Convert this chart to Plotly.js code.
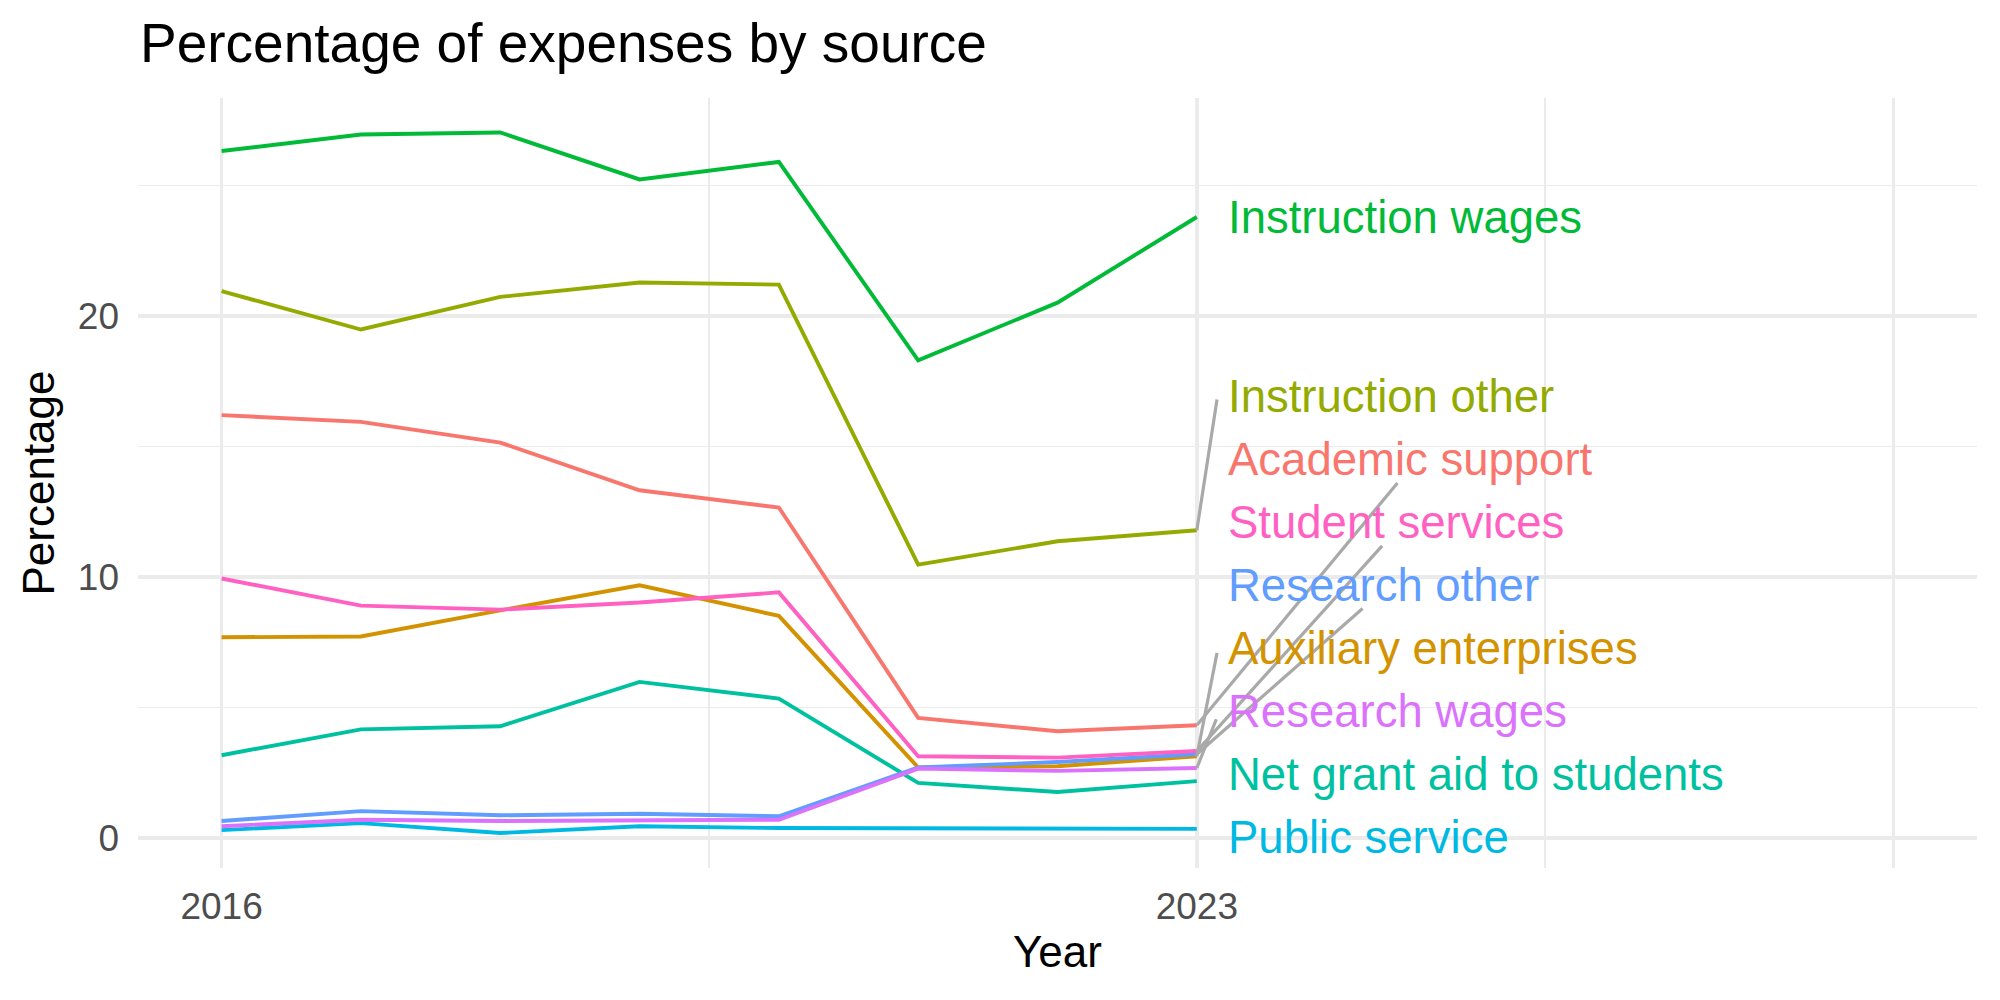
<!DOCTYPE html>
<html>
<head>
<meta charset="utf-8">
<script src="https://cdn.plot.ly/plotly-3.0.1.min.js"></script>
<style>
  html, body { margin: 0; padding: 0; background: #ffffff; }
  #chart { width: 2000px; height: 1000px; }
</style>
</head>
<body>
<div id="chart"></div>
<script>
// Share of total expenses (%) by source, 2016-2023
const years = [2016, 2017, 2018, 2019, 2020, 2021, 2022, 2023];

const academicSupport      = [16.20, 15.94, 15.15, 13.32, 12.66, 4.60, 4.09, 4.32];
const auxiliaryEnterprises = [7.69, 7.72, 8.72, 9.68, 8.51, 2.70, 2.75, 3.13];
const instructionOther     = [20.95, 19.48, 20.73, 21.28, 21.20, 10.47, 11.37, 11.79];
const instructionWages     = [26.32, 26.95, 27.03, 25.23, 25.90, 18.30, 20.51, 23.79];
const netGrantAid          = [3.17, 4.16, 4.28, 5.98, 5.34, 2.11, 1.76, 2.18];
const publicService        = [0.30, 0.57, 0.19, 0.45, 0.38, 0.38, 0.38, 0.35];
const researchOther        = [0.65, 1.03, 0.87, 0.93, 0.83, 2.70, 2.91, 3.21];
const researchWages        = [0.45, 0.70, 0.65, 0.68, 0.70, 2.66, 2.57, 2.68];
const studentServices      = [9.94, 8.90, 8.75, 9.02, 9.41, 3.13, 3.08, 3.33];

// Series names (drawn in this order, last on top)
const sourceNames = [
  "Academic support", "Auxiliary enterprises", "Instruction other",
  "Instruction wages", "Net grant aid to students", "Public service",
  "Research other", "Research wages", "Student services"
];
const sourceValues = [
  academicSupport, auxiliaryEnterprises, instructionOther,
  instructionWages, netGrantAid, publicService,
  researchOther, researchWages, studentServices
];
const sourceColors = [
  "#F8766D", "#D39200", "#93AA00", "#00BA38", "#00C19F",
  "#00B9E3", "#619CFF", "#DB72FB", "#FF61C3"
];

// End-of-line label placement (repelled so they do not overlap)
const labelX = 2023.21;
const labelY = [14.49, 7.25, 16.90, 23.79, 2.43, 0.02, 9.69, 4.86, 12.08];
// Leader segment end points (null = label sits beside its line, no segment)
const leaderEndX = [2024.44, 2023.145, 2023.145, null, null, null, 2024.19, 2023.14, 2024.33];
const leaderEndY = [13.60, 7.09, 16.80, null, null, null, 8.79, 4.55, 11.19];

const FONT = "Liberation Sans, Arial, Helvetica, sans-serif";

const traces = [];
sourceNames.forEach((name, i) => {
  traces.push({
    type: "scatter",
    mode: "lines",
    name: name,
    x: years,
    y: sourceValues[i],
    line: { color: sourceColors[i], width: 3.9 },
    hoverinfo: "skip",
    showlegend: false
  });
});

// Grey leader segments from the last point to the label
const lastYear = years[years.length - 1];
sourceNames.forEach((name, i) => {
  if (leaderEndX[i] === null) return;
  const vals = sourceValues[i];
  traces.push({
    type: "scatter",
    mode: "lines",
    x: [lastYear, leaderEndX[i]],
    y: [vals[vals.length - 1], leaderEndY[i]],
    line: { color: "#A9A9A9", width: 3.2 },
    hoverinfo: "skip",
    showlegend: false
  });
});

const annotations = sourceNames.map((name, i) => ({
  x: labelX,
  y: labelY[i],
  xref: "x",
  yref: "y",
  text: name,
  showarrow: false,
  xanchor: "left",
  yanchor: "middle",
  font: { family: FONT, size: 45.5, color: sourceColors[i] }
}));

const layout = {
  width: 2000,
  height: 1000,
  paper_bgcolor: "#ffffff",
  plot_bgcolor: "#ffffff",
  margin: { l: 138, r: 23, t: 98, b: 132, pad: 0 },
  showlegend: false,
  title: {
    text: "Percentage of expenses by source",
    font: { family: FONT, size: 55, color: "#000000" },
    xref: "container",
    x: 0.07,
    xanchor: "left",
    yref: "container",
    y: 0.957,
    yanchor: "middle"
  },
  xaxis: {
    range: [2015.4, 2028.6],
    tickmode: "array",
    tickvals: [2016, 2023, 2028],
    ticktext: ["2016", "2023", ""],
    ticks: "",
    showline: false,
    zeroline: false,
    showgrid: true,
    gridcolor: "#EBEBEB",
    gridwidth: 3.4,
    minor: {
      tickmode: "array",
      tickvals: [2019.5, 2025.5],
      showgrid: true,
      gridcolor: "#EBEBEB",
      gridwidth: 1.8,
      ticks: ""
    },
    tickfont: { family: FONT, size: 37, color: "#4D4D4D" },
    ticklabelstandoff: 13,
    title: {
      text: "Year",
      font: { family: FONT, size: 44, color: "#000000" },
      standoff: 10
    },
    automargin: false
  },
  yaxis: {
    range: [-1.15, 28.35],
    tickmode: "array",
    tickvals: [0, 10, 20],
    ticktext: ["0", "10", "20"],
    ticks: "",
    showline: false,
    zeroline: false,
    showgrid: true,
    gridcolor: "#EBEBEB",
    gridwidth: 3.4,
    minor: {
      tickmode: "array",
      tickvals: [5, 15, 25],
      showgrid: true,
      gridcolor: "#EBEBEB",
      gridwidth: 1.8,
      ticks: ""
    },
    tickfont: { family: FONT, size: 37, color: "#4D4D4D" },
    ticklabelstandoff: 18,
    title: {
      text: "Percentage",
      font: { family: FONT, size: 44, color: "#000000" },
      standoff: 9
    },
    automargin: false
  },
  annotations: annotations
};

Plotly.newPlot("chart", traces, layout, { staticPlot: true, displayModeBar: false });
</script>
</body>
</html>
